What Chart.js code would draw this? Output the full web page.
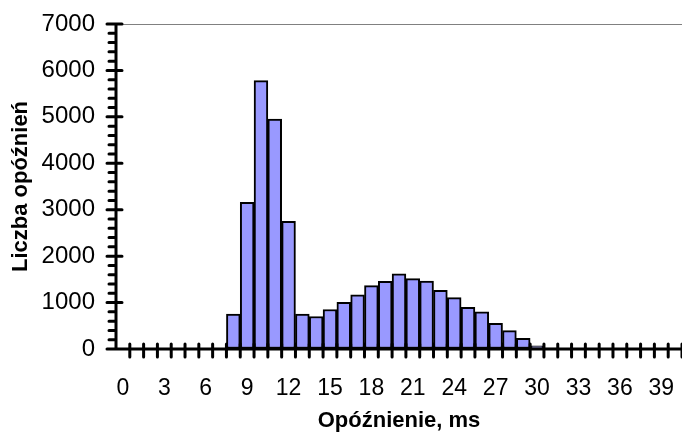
<!DOCTYPE html>
<html lang="pl">
  <head>
    <meta charset="UTF-8" />
    <title>Opóźnienia</title>
    <style>
      html, body { margin: 0; padding: 0; background: #fff; }
      .wrap { width: 682px; height: 434px; position: relative; }
    </style>
  </head>
  <body>
    <div class="wrap">
      <canvas id="myChart" width="682" height="434"></canvas>
    </div>
    <script src="https://cdn.jsdelivr.net/npm/chart.js@4.4.0/dist/chart.umd.min.js"></script>
    <script>
      // opóźnienie w ms (kategorie 0..40)
      const delays = [];
      for (let i = 0; i <= 40; i++) delays.push(String(i));
      // liczba opóźnień dla każdej kategorii
      const counts = [
        0, 0, 0, 0, 0, 0, 0, 0, 750, 3160, 5780, 4950, 2750, 750, 700, 850,
        1005, 1165, 1365, 1460, 1620, 1515, 1465, 1265, 1105, 900, 800, 555,
        395, 230, 70, 20, 0, 0, 0, 0, 0, 0, 0, 0, 0,
      ];
      const yTicks = [0, 1000, 2000, 3000, 4000, 5000, 6000, 7000];
      const labelStep = 3;

      const FONT = "'Liberation Sans', Arial, sans-serif";

      // ticki osi rysowane na wierzchu (krzyżujące się z osią jak w Excelu)
      const axisTicks = {
        id: "axisTicks",
        afterDatasetsDraw(chart) {
          const { ctx, chartArea, scales } = chart;
          const { left, right, top, bottom } = chartArea;
          const x = scales.x;
          const y = scales.y;
          ctx.save();
          ctx.strokeStyle = "#000";
          ctx.lineCap = "round";
          ctx.lineWidth = 3;
          ctx.beginPath();
          // oś X
          ctx.moveTo(left, bottom);
          ctx.lineTo(right, bottom);
          const half = (x.getPixelForValue(1) - x.getPixelForValue(0)) / 2;
          for (let i = 0; i < delays.length; i++) {
            const px = x.getPixelForValue(i) + half;
            ctx.moveTo(px, bottom - 5);
            ctx.lineTo(px, bottom + 8);
          }
          // oś Y
          ctx.moveTo(left, top);
          ctx.lineTo(left, bottom);
          const max = yTicks[yTicks.length - 1];
          for (let v = 0; v <= max; v += 200) {
            const py = y.getPixelForValue(v);
            if (v % 1000 === 0) {
              ctx.moveTo(left - 9, py);
              ctx.lineTo(left + 6, py);
            } else {
              ctx.moveTo(left - 7, py);
              ctx.lineTo(left, py);
            }
          }
          ctx.stroke();
          ctx.restore();
        },
      };

      const myCt = document.getElementById("myChart");
      const myChart = new Chart(myCt, {
        type: "bar",
        data: {
          labels: delays,
          datasets: [
            {
              label: "Liczba opóźnień",
              data: counts,
              backgroundColor: "#9999ff",
              borderColor: "#000",
              borderWidth: 2,
              borderSkipped: false,
              categoryPercentage: 1.0,
              barPercentage: 1.0,
            },
          ],
        },
        options: {
          responsive: false,
          animation: false,
          layout: { padding: { top: 24, right: 0, left: 0, bottom: 0 } },
          plugins: {
            legend: { display: false },
            tooltip: { enabled: false },
          },
          scales: {
            x: {
              grid: { display: false, drawTicks: false },
              border: { display: false },
              ticks: {
                autoSkip: false,
                maxRotation: 0,
                padding: 26,
                color: "#000",
                font: { family: FONT, size: 23 },
                callback: function (val, i) {
                  return i % labelStep === 0 ? delays[i] : "";
                },
              },
              title: {
                display: true,
                text: "Opóźnienie, ms",
                color: "#000",
                font: { family: FONT, size: 22, weight: "bold" },
                padding: { top: 0, bottom: 0 },
              },
              afterFit: (s) => {
                s.height = 85;
                s.paddingLeft = 0;
                s.paddingRight = 0;
              },
            },
            y: {
              min: 0,
              max: 7000,
              ticks: {
                stepSize: 1000,
                padding: 21,
                color: "#000",
                font: { family: FONT, size: 24 },
                callback: (v) => String(v),
              },
              grid: {
                drawTicks: false,
                color: (c) => (c.tick && c.tick.value === 7000 ? "#808080" : "rgba(0,0,0,0)"),
                lineWidth: 1,
              },
              border: { display: false },
              title: {
                display: true,
                text: "Liczba opóźnień",
                color: "#000",
                font: { family: FONT, size: 22, weight: "bold" },
                padding: { top: 8, bottom: 0 },
              },
              afterFit: (s) => {
                s.width = 116;
                s.paddingTop = 0;
                s.paddingBottom = 0;
              },
            },
          },
        },
        plugins: [axisTicks],
      });
    </script>
  </body>
</html>
